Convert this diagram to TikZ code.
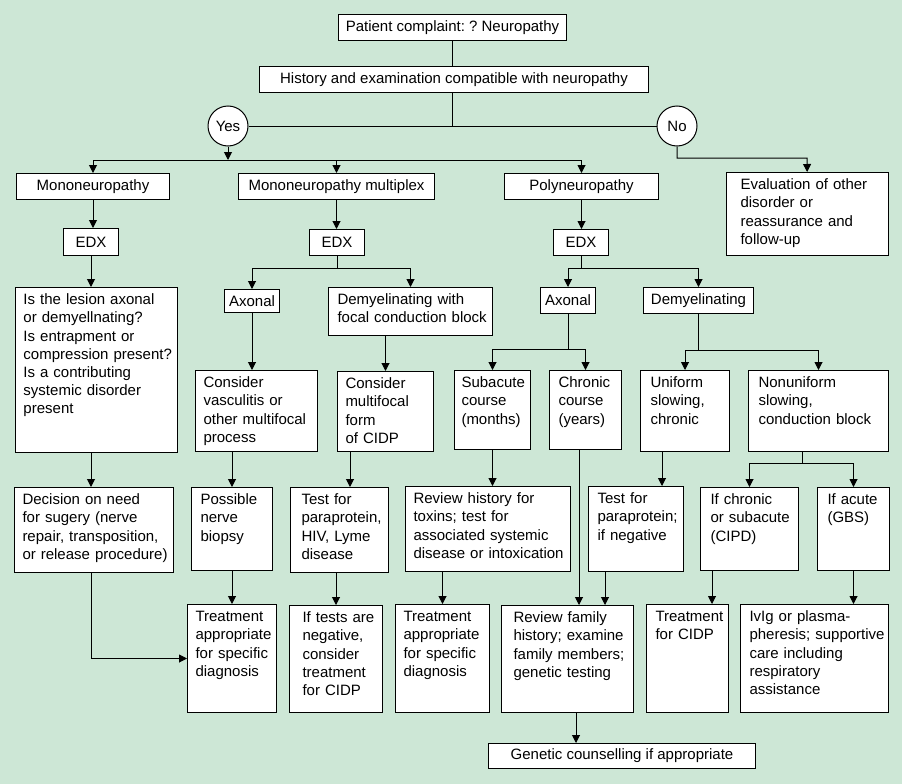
\documentclass[tikz,border=0pt]{standalone}
\usepackage{fontspec}
\setmainfont{Liberation Sans}
\usetikzlibrary{arrows.meta}
\definecolor{bggreen}{RGB}{205,231,214}
\frenchspacing
\tikzset{
  box/.style={draw, fill=white, line width=1pt, anchor=north west, inner sep=0pt,
    font=\fontsize{15}{18.2}\selectfont},
  tbox/.style={box, align=left, inner ysep=4.5pt, text height=12.6pt},
  circ/.style={draw, fill=white, line width=1pt, circle, minimum size=40pt, inner sep=0pt,
    font=\fontsize{15}{18.2}\selectfont},
  flow/.style={line width=1pt, -{Triangle[length=8pt,width=8pt]}},
  plain/.style={line width=1pt}
}
% box with text at top left: [pad]{name}{x}{y}{width}{height}{text}
\newcommand{\tnode}[7][9]{%
  \pgfmathsetmacro{\tdp}{#6-21.6}%
  \node[tbox, text width=#5pt, text depth=\tdp pt] (#2) at (#3,#4) {\leftskip=#1pt\relax #7\par};}
\begin{document}
\begin{tikzpicture}[x=1pt,y=-1pt]
\fill[bggreen] (0,0) rectangle (902,784);

% top
\node[box, minimum width=228pt, minimum height=26pt] (patient) at (338,14) {Patient complaint: ? Neuropathy};
\node[box, minimum width=389pt, minimum height=26pt] (history) at (259,66) {History and examination compatible with neuropathy};
\node[circ] (yes) at (228,126) {Yes};
\node[circ] (no) at (677,126) {No};

% first row
\node[box, minimum width=153pt, minimum height=26pt] (mono) at (16,173) {Mononeuropathy};
\node[box, minimum width=196pt, minimum height=26pt] (multi) at (238,173) {Mononeuropathy multiplex};
\node[box, minimum width=154pt, minimum height=26pt] (poly) at (504,173) {Polyneuropathy};
\tnode[14]{eval}{726}{172}{162}{83}{Evaluation of other\\disorder or\\reassurance and\\follow-up}

% EDX
\node[box, minimum width=55pt, minimum height=27pt] (edxA) at (63,228) {EDX};
\node[box, minimum width=55pt, minimum height=26pt] (edxB) at (309,229) {EDX};
\node[box, minimum width=55pt, minimum height=26pt] (edxC) at (553,229) {EDX};

% findings
\tnode[8]{lesion}{15}{287}{162}{165}{Is the lesion axonal\\or demyellnating?\\Is entrapment or\\compression present?\\Is a contributing\\systemic disorder\\present}
\node[box, minimum width=55pt, minimum height=23pt] (axonA) at (224,289) {Axonal};
\tnode{demyA}{328}{287}{164}{48}{Demyelinating with\\focal conduction block}
\node[box, minimum width=55pt, minimum height=26pt] (axonB) at (540,287) {Axonal};
\node[box, minimum width=110pt, minimum height=26pt] (demyB) at (643,287) {Demyelinating};

% third row
\tnode[8]{vasc}{195}{370}{122}{81}{Consider\\vasculitis or\\other multifocal\\process}
\tnode[8]{multif}{337}{371}{96}{80}{Consider\\multifocal\\form\\of CIDP}
\tnode[7]{subac}{454}{370}{76}{79}{Subacute\\course\\(months)}
\tnode{chron}{549}{370}{72}{79}{Chronic\\course\\(years)}
\tnode[10]{unif}{640}{370}{89}{81}{Uniform\\slowing,\\chronic}
\tnode[10]{nonunif}{748}{370}{140}{81}{Nonuniform\\slowing,\\conduction block}

% fourth row
\tnode[8]{decision}{14}{487}{159}{85}{Decision on need\\for sugery (nerve\\repair, transposition,\\or release procedure)}
\tnode{biopsy}{191}{487}{81}{83}{Possible\\nerve\\biopsy}
\tnode[11]{hiv}{290}{487}{98}{85}{Test for\\paraprotein,\\HIV, Lyme\\disease}
\tnode[8]{review}{405}{486}{165}{85}{Review history for\\toxins; test for\\associated systemic\\disease or intoxication}
\tnode{para}{588}{486}{95}{85}{Test for\\paraprotein;\\if negative}
\tnode[10]{ifchr}{700}{487}{98}{83}{If chronic\\or subacute\\(CIPD)}
\tnode[10]{ifac}{817}{487}{72}{83}{If acute\\(GBS)}

% bottom row
\tnode[8]{treatA}{187}{604}{89}{108}{Treatment\\appropriate\\for specific\\diagnosis}
\tnode[13]{iftests}{289}{605}{93}{107}{If tests are\\negative,\\consider\\treatment\\for CIDP}
\tnode[8]{treatB}{395}{604}{94}{108}{Treatment\\appropriate\\for specific\\diagnosis}
\tnode[12]{family}{501}{605}{132}{107}{Review family\\history; examine\\family members;\\genetic testing}
\tnode{cidp}{646}{604}{82}{108}{Treatment\\for CIDP}
\tnode{ivig}{740}{604}{148}{108}{IvIg or plasma-\\pheresis; supportive\\care including\\respiratory\\assistance}
\node[box, minimum width=267pt, minimum height=25pt] (genetic) at (488,743) {Genetic counselling if appropriate};

% connectors
\draw[plain] (patient) -- (patient |- history.north);
\draw[plain] (history.south -| patient) -- (patient |- yes);
\draw[plain] (yes) -- (no);
\coordinate (yj) at (228,160);
\coordinate (nj) at (807,158);
\draw[flow] (yes) -- (yj);
\draw[plain] (yj -| mono) -- (yj -| poly);
\draw[flow] (yj -| mono) -- (mono);
\draw[flow] (yj -| multi) -- (multi);
\draw[flow] (yj -| poly) -- (poly);
\draw[flow] (no) |- (nj) -- (eval);

% mononeuropathy
\draw[flow] (mono) -- (mono |- edxA.north);
\draw[flow] (edxA) -- (edxA |- lesion.north);
\draw[flow] (lesion.south -| edxA) -- (edxA |- decision.north);
\draw[flow] (decision.south -| edxA) |- (treatA);

% mononeuropathy multiplex
\draw[flow] (multi) -- (multi |- edxB.north);
\draw[flow] (edxB.south) -- ++(0,12) -| (axonA.north);
\draw[flow] (edxB.south) -- ++(0,12) -| (demyA.north);
\draw[flow] (axonA) -- (axonA |- vasc.north);
\draw[flow] (demyA.south -| multif) -- (multif);
\draw[flow] (vasc.south -| biopsy) -- (biopsy);
\coordinate (m1) at ([xshift=13pt]multif.south west);
\draw[flow] (m1) -- (m1 |- hiv.north);
\draw[flow] (biopsy) -- (biopsy |- treatA.north);
\draw[flow] (hiv.south -| iftests) -- (iftests);

% polyneuropathy
\draw[flow] (poly) -- (poly |- edxC.north);
\draw[flow] (edxC.south) -- ++(0,12) -| (axonB.north);
\draw[flow] (edxC.south) -- ++(0,12) -| (demyB.north);
\draw[flow] (axonB.south) -- ++(0,35) -| (subac.north);
\draw[flow] (axonB.south) -- ++(0,35) -| (chron.north);
\draw[flow] (demyB.south) -- ++(0,36) -| (unif.north);
\draw[flow] (demyB.south) -- ++(0,36) -| (nonunif.north);
\coordinate (n1) at ([xshift=54pt]nonunif.south west);
\draw[flow] (n1) -- ++(0,11) -| (ifchr.north);
\draw[flow] (n1) -- ++(0,11) -| (ifac.north);
\draw[flow] (subac) -- (subac |- review.north);
\draw[flow] (review.south -| treatB) -- (treatB);
\coordinate (c1) at ([xshift=30pt]chron.south west);
\draw[flow] (c1) -- (c1 |- family.north);
\coordinate (u1) at ([xshift=22pt]unif.south west);
\draw[flow] (u1) -- (u1 |- para.north);
\coordinate (p1) at ([xshift=17pt]para.south west);
\draw[flow] (p1) -- (p1 |- family.north);
\coordinate (i1) at ([xshift=12pt]ifchr.south west);
\draw[flow] (i1) -- (i1 |- cidp.north);
\draw[flow] (ifac) -- (ifac |- ivig.north);
\coordinate (f1) at ([xshift=75pt]family.south west);
\draw[flow] (f1) -- (f1 |- genetic.north);
\end{tikzpicture}
\end{document}
